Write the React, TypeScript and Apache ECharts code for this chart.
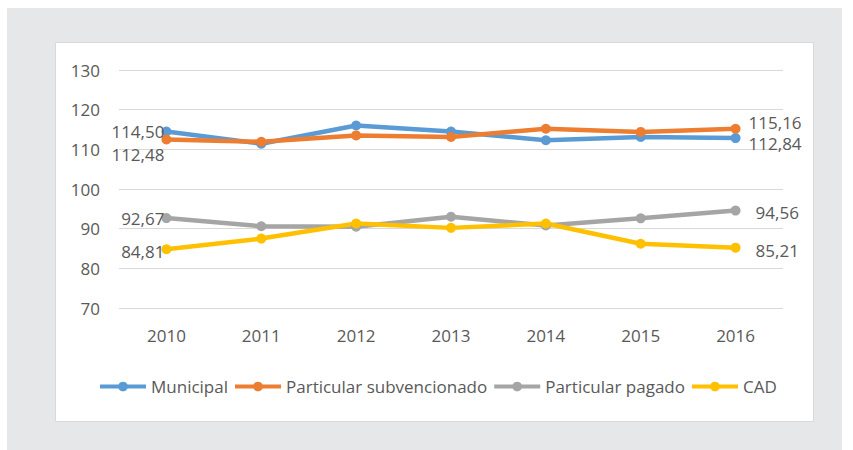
import React, { useEffect, useRef } from "react";
import * as echarts from "echarts";

const years = ["2010", "2011", "2012", "2013", "2014", "2015", "2016"];
const seriesNames = ["Municipal", "Particular subvencionado", "Particular pagado", "CAD"];
const municipal = [114.5, 111.4, 116.0, 114.5, 112.3, 113.1, 112.84];
const subvencionado = [112.48, 111.9, 113.5, 113.1, 115.2, 114.4, 115.16];
const pagado = [92.67, 90.6, 90.5, 93.0, 90.8, 92.6, 94.56];
const cad = [84.81, 87.5, 91.3, 90.2, 91.3, 86.2, 85.21];
const colors = ["#5B9BD5", "#ED7D31", "#A5A5A5", "#FFC000"];
// label offsets for first and last points
const firstOffsets = [[3, 0], [3, 15], [3, 0], [3, 2]];
const lastOffsets = [[8, 5], [8, -6], [15, 2], [15, 3]];

const FONT = "'Open Sans', 'Noto Sans', sans-serif";
const TEXT = "#595959";
const FS = 17;

export default function App() {
  const ref = useRef<HTMLDivElement>(null);
  useEffect(() => {
    if (!ref.current) return;
    const chart = echarts.init(ref.current, null, { renderer: "svg" });
    const all = [municipal, subvencionado, pagado, cad];
    const fmt = (v: number) => v.toFixed(2).replace(".", ",");
    const series = all.map((vals, si) => ({
      name: seriesNames[si],
      type: "line",
      symbol: "circle",
      symbolSize: 10,
      color: colors[si],
      lineStyle: { width: 4.5, color: colors[si] },
      itemStyle: { color: colors[si] },
      data: vals.map((v, i) => {
        if (i === 0 || i === vals.length - 1) {
          const first = i === 0;
          return {
            value: v,
            label: {
              show: true,
              position: first ? "left" : "right",
              distance: 0,
              offset: first ? firstOffsets[si] : lastOffsets[si],
              formatter: () => fmt(v),
              color: TEXT,
              fontSize: FS,
              lineHeight: 16,
              fontFamily: FONT,
            },
          };
        }
        return v;
      }),
    }));
    chart.setOption({
      animation: false,
      backgroundColor: "#ffffff",
      textStyle: { fontFamily: FONT },
      graphic: [
        {
          type: "rect",
          silent: true,
          z: -10,
          shape: { x: 7, y: 8, width: 835, height: 442 },
          style: { fill: "#E6E7E8" },
        },
        {
          type: "rect",
          silent: true,
          z: -9,
          shape: { x: 55.5, y: 42.5, width: 758, height: 379 },
          style: { fill: "#ffffff", stroke: "#D9D9D9", lineWidth: 1 },
        },
      ],
      grid: { left: 119, right: 70, top: 70, bottom: 142 },
      legend: {
        data: seriesNames,
        top: 373,
        left: 93,
        itemWidth: 46,
        itemHeight: 12,
        itemGap: 5,
        lineStyle: { width: 4 },
        textStyle: { color: TEXT, fontSize: FS, fontFamily: FONT },
      },
      xAxis: {
        type: "category",
        data: years,
        boundaryGap: true,
        axisLine: { show: false },
        axisTick: { show: false },
        axisLabel: { color: TEXT, fontSize: FS, fontFamily: FONT, margin: 19 },
      },
      yAxis: {
        type: "value",
        min: 70,
        max: 130,
        interval: 10,
        axisLine: { show: false },
        axisTick: { show: false },
        axisLabel: { color: TEXT, fontSize: FS, fontFamily: FONT, margin: 19 },
        splitLine: { lineStyle: { color: "#D9D9D9", width: 1 } },
      },
      series,
    });
    return () => chart.dispose();
  }, []);
  return (
    <div
      ref={ref}
      style={{ position: "absolute", left: 0, top: 0, width: 853, height: 450 }}
    />
  );
}
